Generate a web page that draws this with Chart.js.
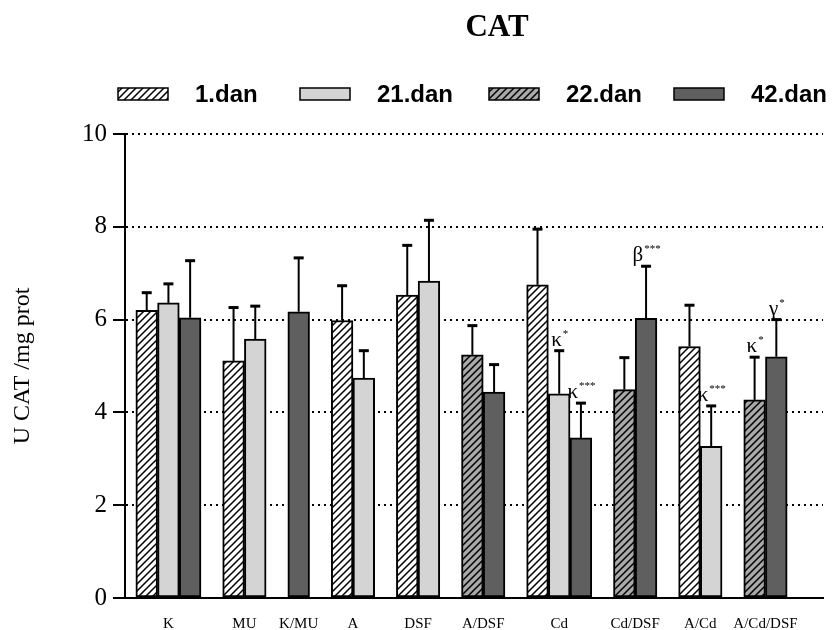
<!DOCTYPE html>
<html>
<head>
<meta charset="utf-8">
<script src="https://cdn.jsdelivr.net/npm/chart.js@4"></script>
<style>
  html, body { margin: 0; padding: 0; background: #fff; }
  canvas { display: block; }
</style>
</head>
<body>
<canvas id="chart" width="835" height="630"></canvas>
<script>
// Catalase activity per group and sampling day (mean and upper SD)
const categories = ['K', 'MU', 'K/MU', 'A', 'DSF', 'A/DSF', 'Cd', 'Cd/DSF', 'A/Cd', 'A/Cd/DSF'];
const seriesNames = ['1.dan', '21.dan', '22.dan', '42.dan'];

const day1      = [6.20, 5.11, null, 5.98, 6.53, null, 6.75, null, 5.42, null];
const day1Sd    = [0.38, 1.15, null, 0.75, 1.07, null, 1.20, null, 0.89, null];
const day21     = [6.36, 5.58, null, 4.74, 6.83, null, 4.40, null, 3.27, null];
const day21Sd   = [0.41, 0.71, null, 0.59, 1.31, null, 0.93, null, 0.87, null];
const day22     = [null, null, null, null, null, 5.24, null, 4.49, null, 4.27];
const day22Sd   = [null, null, null, null, null, 0.63, null, 0.69, null, 0.92];
const day42     = [6.04, null, 6.17, null, null, 4.44, 3.45, 6.03, null, 5.20];
const day42Sd   = [1.23, null, 1.16, null, null, 0.59, 0.75, 1.12, null, 0.80];

const yTicks = [0, 2, 4, 6, 8, 10];

// significance marks: group, day, symbol, stars
const markGroup  = ['Cd', 'Cd', 'Cd/DSF', 'A/Cd', 'A/Cd/DSF', 'A/Cd/DSF'];
const markDay    = ['21.dan', '42.dan', '42.dan', '21.dan', '22.dan', '42.dan'];
const markSymbol = ['κ', 'κ', 'β', 'κ', 'κ', 'γ'];
const markStars  = ['*', '***', '***', '***', '*', '*'];

const values = [day1, day21, day22, day42];
const errors = [day1Sd, day21Sd, day22Sd, day42Sd];

const canvas = document.getElementById('chart');
const ctx = canvas.getContext('2d');

function hatch(bg) {
  const s = 7;
  const c = document.createElement('canvas');
  c.width = s; c.height = s;
  const g = c.getContext('2d');
  g.fillStyle = bg;
  g.fillRect(0, 0, s, s);
  g.strokeStyle = '#000';
  g.lineWidth = 1.5;
  g.beginPath();
  g.moveTo(-1, s + 1); g.lineTo(s + 1, -1);
  g.moveTo(-1, 1); g.lineTo(1, -1);
  g.moveTo(s - 1, s + 1); g.lineTo(s + 1, s - 1);
  g.stroke();
  return ctx.createPattern(c, 'repeat');
}

const fills = [hatch('#ffffff'), '#d4d4d4', hatch('#a9a9a9'), '#5f5f5f'];

// bars of a group sit side by side, one empty slot between groups
const slotOf = values.map(() => []);
const groupCenters = [];
let slot = 0;
categories.forEach((c, ci) => {
  const start = slot;
  values.forEach((v, si) => {
    if (v[ci] !== null) slotOf[si][ci] = slot++;
  });
  groupCenters.push((start + slot - 1) / 2);
  slot += 1;
});
const xMin = -1;
const xMax = slot + 0.15;

const datasets = seriesNames.map((name, si) => {
  const data = [];
  const sd = [];
  categories.forEach((c, ci) => {
    if (values[si][ci] !== null) {
      data.push({ x: slotOf[si][ci], y: values[si][ci] });
      sd.push(errors[si][ci]);
    }
  });
  return {
    label: name,
    data,
    sd,
    cats: categories.filter((c, ci) => values[si][ci] !== null),
    backgroundColor: fills[si],
    borderColor: '#000',
    borderWidth: 2,
    borderSkipped: false
  };
});

const errorBars = {
  id: 'errorBars',
  afterDatasetsDraw(chart) {
    const y = chart.scales.y;
    const c = chart.ctx;
    c.save();
    c.strokeStyle = '#000';
    chart.data.datasets.forEach((ds, di) => {
      const meta = chart.getDatasetMeta(di);
      meta.data.forEach((bar, i) => {
        const top = y.getPixelForValue(ds.data[i].y + ds.sd[i]);
        c.lineWidth = 2;
        c.beginPath();
        c.moveTo(bar.x, bar.y);
        c.lineTo(bar.x, top);
        c.stroke();
        c.lineWidth = 3;
        c.beginPath();
        c.moveTo(bar.x - 5, top);
        c.lineTo(bar.x + 5, top);
        c.stroke();
      });
    });
    c.restore();
  }
};

const marks = {
  id: 'marks',
  afterDatasetsDraw(chart) {
    const y = chart.scales.y;
    const c = chart.ctx;
    c.save();
    c.fillStyle = '#000';
    c.textBaseline = 'alphabetic';
    markGroup.forEach((g, k) => {
      const di = seriesNames.indexOf(markDay[k]);
      const ds = chart.data.datasets[di];
      const i = ds.cats.indexOf(g);
      const bar = chart.getDatasetMeta(di).data[i];
      const top = y.getPixelForValue(ds.data[i].y + ds.sd[i]);
      c.font = '21px "Liberation Serif"';
      const w1 = c.measureText(markSymbol[k]).width;
      c.font = '11px "Liberation Serif"';
      const w2 = c.measureText(markStars[k]).width;
      const x0 = bar.x - (w1 + w2) / 2;
      const base = top - 5;
      c.font = '21px "Liberation Serif"';
      c.textAlign = 'left';
      c.fillText(markSymbol[k], x0, base);
      c.font = '11px "Liberation Serif"';
      c.fillText(markStars[k], x0 + w1 + 1, base - 9);
    });
    c.restore();
  }
};

const header = {
  id: 'header',
  afterDraw(chart) {
    const c = chart.ctx;
    c.save();
    c.fillStyle = '#000';
    c.textAlign = 'center';
    c.textBaseline = 'middle';
    c.font = 'bold 31px "Liberation Serif"';
    c.fillText('CAT', 497, 28);

    const boxX = [118, 300, 489, 674];
    c.textAlign = 'left';
    c.font = 'bold 24px "Liberation Sans"';
    seriesNames.forEach((name, si) => {
      c.fillStyle = fills[si];
      c.fillRect(boxX[si], 88, 50, 12);
      c.strokeStyle = '#000';
      c.lineWidth = 1.5;
      c.strokeRect(boxX[si], 88, 50, 12);
      c.fillStyle = '#000';
      c.fillText(name, boxX[si] + 77, 95);
    });
    c.restore();
  }
};

new Chart(ctx, {
  type: 'bar',
  data: { datasets },
  plugins: [errorBars, marks, header],
  options: {
    responsive: false,
    animation: false,
    devicePixelRatio: 1,
    layout: { padding: { top: 134, left: 0, right: 12, bottom: 0 } },
    datasets: { bar: { grouped: false, barPercentage: 1, categoryPercentage: 1 } },
    plugins: {
      legend: { display: false },
      title: { display: false },
      tooltip: { enabled: false }
    },
    scales: {
      x: {
        type: 'linear',
        offset: false,
        bounds: 'data',
        min: xMin,
        max: xMax,
        afterBuildTicks: s => { s.ticks = groupCenters.map(v => ({ value: v })); },
        afterFit: s => { s.height = 32; },
        grid: { display: false, drawTicks: false, offset: false },
        border: { display: true, color: '#000', width: 2 },
        ticks: {
          autoSkip: false,
          maxRotation: 0,
          padding: 17,
          color: '#000',
          font: { family: 'Liberation Serif', size: 15 },
          callback: (v, i) => categories[i]
        }
      },
      y: {
        min: 0,
        max: 10,
        afterBuildTicks: s => { s.ticks = yTicks.map(v => ({ value: v })); },
        afterFit: s => { s.width = 125; },
        grid: {
          color: '#000',
          lineWidth: 2,
          drawTicks: true,
          tickLength: 12,
          tickColor: '#000',
          tickWidth: 2,
          tickBorderDash: []
        },
        border: { display: true, color: '#000', width: 2, dash: [2, 4] },
        ticks: {
          padding: 6,
          color: '#000',
          font: { family: 'Liberation Serif', size: 25 }
        },
        title: {
          display: true,
          text: 'U CAT /mg prot',
          color: '#000',
          font: { family: 'Liberation Serif', size: 24 },
          padding: { top: 8, bottom: 0 }
        }
      }
    }
  }
});
</script>
</body>
</html>
